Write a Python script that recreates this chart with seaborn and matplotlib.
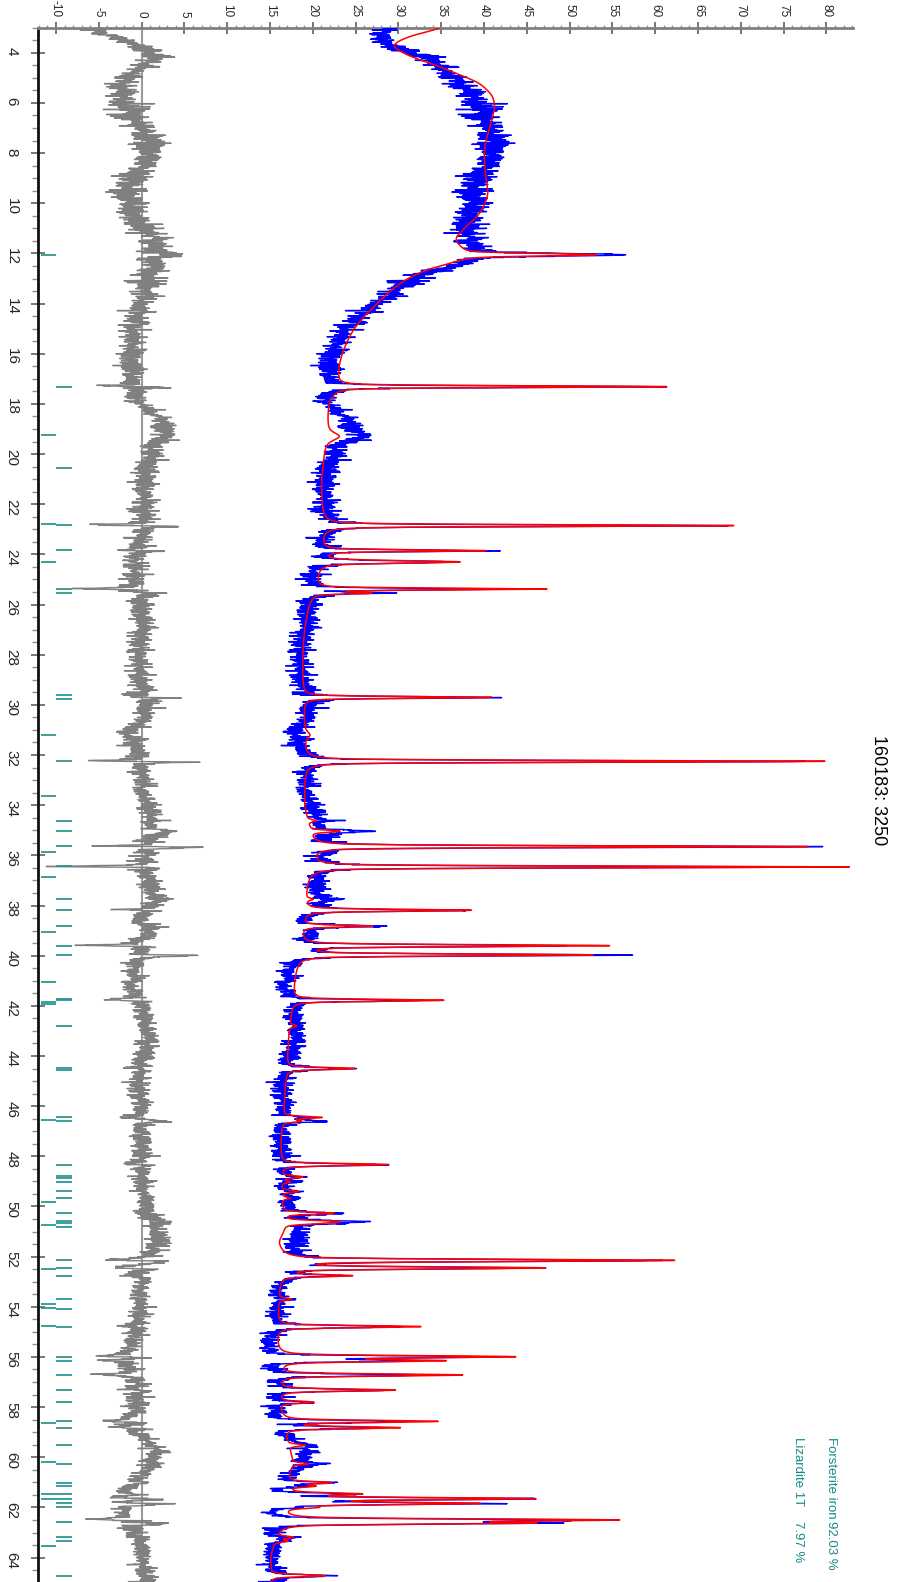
import numpy as np
import pandas as pd
import matplotlib
matplotlib.use("Agg")
import matplotlib.pyplot as plt
from matplotlib.ticker import MultipleLocator, FuncFormatter
import seaborn as sns

# ---------------------------------------------------------------- data
# scan grid (degrees 2-theta)
two_theta = np.round(np.arange(3.0, 65.0001, 0.01), 3)

# calculated background, knots (2-theta, intensity)
bg_tt = [3.0, 3.3, 3.7, 4.1, 4.55, 5.2, 5.7, 6.15, 6.8, 7.5, 8.1, 9.0, 9.6, 10.1,
         10.5, 10.95, 11.45, 11.75, 12.3, 12.6, 13.0, 13.5, 14.0, 14.5, 15.0, 15.5,
         16.0, 16.5, 17.0, 17.6, 18.0, 18.5, 19.0, 20.0, 21.0, 22.0, 22.5, 23.3,
         24.0, 24.7, 25.2, 26.0, 27.0, 28.0, 29.0, 30.0, 31.0, 32.0, 33.0, 34.0,
         35.0, 36.0, 37.0, 38.0, 39.0, 40.0, 41.0, 42.0, 43.0, 44.0, 45.0, 46.0,
         47.0, 48.0, 49.0, 50.0, 51.0, 51.4, 52.0, 53.0, 54.0, 55.0, 56.0, 57.0,
         58.0, 59.0, 60.0, 60.5, 61.0, 62.0, 63.0, 64.0, 65.0]
bg_calc = [35.5, 31.5, 29.0, 31.0, 34.8, 39.5, 41.0, 41.3, 40.8, 40.2, 40.0, 40.2, 40.5, 40.0,
           39.3, 37.8, 36.4, 37.2, 37.0, 33.5, 31.0, 29.0, 27.5, 26.0, 24.8, 24.0,
           23.4, 23.0, 22.8, 22.2, 21.8, 21.7, 21.7, 21.3, 21.0, 21.0, 21.2, 21.0,
           21.0, 20.5, 20.3, 19.5, 19.0, 18.8, 18.8, 18.9, 19.0, 19.0, 19.0, 19.0,
           19.5, 19.8, 19.3, 19.0, 18.6, 18.2, 17.8, 17.5, 17.2, 17.0, 16.8, 16.6,
           16.3, 16.2, 16.2, 16.3, 16.5, 15.8, 16.2, 16.0, 15.9, 15.7, 15.7, 15.8,
           16.0, 16.5, 17.5, 17.3, 16.8, 16.0, 15.5, 15.0, 15.0]

# slowly varying observed-minus-calculated offset, knots (2-theta, intensity)
dev_tt = [3.0, 3.3, 3.6, 4.0, 4.2, 4.6, 5.0, 5.5, 6.0, 6.5, 7.0, 7.5, 8.0, 8.5, 9.0,
          9.5, 10.0, 10.5, 11.0, 11.5, 11.9, 12.8, 14.1, 15.5, 16.8, 17.9, 18.65,
          19.45, 20.8, 22.1, 23.3, 24.6, 26.8, 28.1, 29.2, 30.4, 31.2, 31.8, 33.5,
          35.1, 36.0, 37.1, 37.8, 38.5, 39.2, 40.5, 41.3, 42.2, 43.4, 44.5, 45.1,
          46.0, 47.5, 49.0, 50.5, 51.2, 51.7, 52.8, 54.0, 55.0, 55.8, 56.3, 57.0,
          57.8, 58.5, 59.0, 59.8, 60.3, 60.8, 61.4, 62.3, 62.8, 63.3, 64.0, 65.0]
dev_val = [-6.5, -3.6, -1.2, 1.2, 1.7, 0.0, -1.8, -2.4, -2.2, -1.2, 0.0, 1.0, 1.0, 0.5, -1.2,
           -1.8, -1.5, -1.0, 0.5, 1.4, 1.5, 1.2, -0.2, -1.0, -1.0, -0.8, 2.8,
           1.5, 0.5, 0.2, 0.0, -1.0, 0.3, -0.5, 0.0, 0.3, -1.5, -0.5, 0.3,
           1.5, 0.5, 1.0, 1.5, 0.0, 0.5, -1.0, -1.0, 0.0, 1.2, -0.5, -0.5,
           0.0, 0.0, 0.0, 1.0, 2.2, 1.5, 0.0, -0.3, -0.5, -2.0, -1.5, -0.5,
           -0.5, -1.5, -0.5, 1.8, 1.0, 0.0, -2.5, -2.0, -1.2, -0.3, 0.2, 0.5]

# reflections: position, calculated height, observed height, FWHM
peak_pos = [12.05, 17.31, 19.30, 22.85, 23.85, 24.30, 25.38, 25.54, 29.70, 31.20,
            32.25, 34.62, 35.04, 35.65, 36.46, 37.75, 38.19, 38.82, 39.60, 39.97,
            41.78, 42.80, 44.50, 46.45, 46.60, 48.33, 48.82, 49.02, 49.40, 49.67,
            50.27, 50.60, 50.68, 52.15, 52.45, 52.76, 53.70, 54.79, 55.99, 56.15,
            56.72, 57.32, 57.81, 58.57, 58.82, 59.52, 60.26, 61.01, 61.15, 61.46,
            61.65, 61.84, 62.00, 62.50, 62.62, 63.19, 63.34, 64.72]
peak_calc = [16.0, 38.8, 1.5, 48.0, 19.0, 16.3, 27.0, 6.0, 22.0, 0.6,
             60.8, 1.0, 3.5, 58.0, 63.0, 0.8, 19.5, 8.2, 36.0, 34.2,
             17.7, 0.8, 8.0, 4.5, 2.0, 12.6, 2.5, 1.0, 2.0, 1.0,
             6.0, 6.0, 3.0, 45.6, 30.3, 8.0, 1.5, 16.8, 27.0, 18.4,
             21.5, 13.6, 4.0, 18.0, 13.4, 2.0, 2.0, 5.0, 3.0, 8.0,
             28.5, 22.0, 3.0, 37.5, 27.0, 2.0, 1.5, 6.4]
peak_obs = [18.0, 38.0, 2.5, 47.0, 19.5, 16.0, 22.0, 8.0, 22.6, 0.6,
            60.0, 1.5, 6.0, 58.0, 55.0, 2.5, 18.0, 9.8, 31.0, 39.5,
            16.0, 0.8, 8.0, 3.5, 4.0, 11.5, 2.5, 1.0, 2.0, 1.0,
            5.0, 7.5, 3.5, 42.7, 27.4, 7.0, 1.5, 15.4, 26.5, 16.0,
            18.0, 13.0, 4.0, 16.5, 12.0, 2.0, 2.0, 6.0, 3.0, 10.0,
            31.0, 25.0, 3.0, 36.0, 29.0, 2.0, 1.5, 6.5]
peak_fwhm = [0.12, 0.08, 0.35, 0.08, 0.08, 0.12, 0.08, 0.08, 0.08, 0.30,
             0.08, 0.10, 0.10, 0.08, 0.08, 0.10, 0.09, 0.09, 0.09, 0.09,
             0.09, 0.10, 0.10, 0.10, 0.10, 0.10, 0.10, 0.10, 0.10, 0.10,
             0.10, 0.10, 0.10, 0.10, 0.10, 0.10, 0.10, 0.10, 0.10, 0.10,
             0.10, 0.10, 0.10, 0.10, 0.10, 0.10, 0.10, 0.10, 0.10, 0.10,
             0.10, 0.10, 0.10, 0.10, 0.10, 0.10, 0.10, 0.10]

# Bragg positions of the two phases
lizardite_ticks = [12.07, 19.25, 22.79, 24.29, 31.20, 33.65, 35.87, 36.85, 39.07, 41.04,
                   41.86, 41.93, 46.54, 49.81, 50.75, 52.49, 53.90, 54.06, 54.75, 58.63,
                   60.19, 61.46, 61.65, 63.54]
forsterite_ticks = [17.31, 20.57, 22.83, 23.84, 25.38, 25.54, 29.62, 29.75, 32.25, 34.62,
                    35.04, 35.64, 36.44, 37.75, 38.19, 38.82, 39.60, 39.97, 41.73, 41.78,
                    42.80, 44.47, 44.55, 46.45, 46.60, 48.33, 48.80, 48.88, 49.02, 49.40,
                    49.67, 50.27, 50.59, 50.66, 50.83, 52.15, 52.45, 52.76, 53.70, 54.07,
                    54.79, 55.99, 56.15, 56.72, 57.32, 57.81, 58.57, 58.82, 59.52, 60.26,
                    61.01, 61.15, 61.46, 61.65, 61.84, 62.00, 62.60, 63.19, 63.34, 64.72]

phase_names = ["Forsterite iron", "Lizardite 1T"]
phase_fractions = ["92.03 %", "7.97 %"]
title_text = "160183: 3250"


# ---------------------------------------------------------------- profiles
def pseudo_voigt(x, x0, h, w, eta=0.55):
    u = (x - x0) / w
    return h * (eta / (1.0 + 4.0 * u ** 2) + (1.0 - eta) * np.exp(-4.0 * np.log(2) * u ** 2))


def smooth(y, sigma_pts):
    """Gaussian smoothing with edge padding, used to round off the knot curves."""
    half = int(4 * sigma_pts)
    k = np.exp(-0.5 * (np.arange(-half, half + 1) / sigma_pts) ** 2)
    k /= k.sum()
    padded = np.pad(y, half, mode="edge")
    return np.convolve(padded, k, mode="valid")


shift = 0.006  # small zero-shift between measured and refined peaks
calc = smooth(np.interp(two_theta, bg_tt, bg_calc), 12)
obs_clean = calc + smooth(np.interp(two_theta, dev_tt, dev_val), 8)
for p, hc, ho, w in zip(peak_pos, peak_calc, peak_obs, peak_fwhm):
    calc = calc + pseudo_voigt(two_theta, p, hc, w)
    obs_clean = obs_clean + pseudo_voigt(two_theta, p + shift, ho, w)

# counting statistics on the measured pattern
rng = np.random.default_rng(11)
obs = obs_clean + rng.normal(0.0, 1.0, two_theta.size) * 0.16 * np.sqrt(np.clip(obs_clean, 1, None))
diff = obs - calc

df = pd.DataFrame({"two_theta": two_theta, "obs": obs, "calc": calc, "diff": diff})

# ---------------------------------------------------------------- figure
sns.set_theme(style="white")
plt.rcParams["font.family"] = ["Liberation Sans Narrow", "Liberation Sans", "DejaVu Sans"]
plt.rcParams["axes.unicode_minus"] = False

W, H = 906, 1582
fig = plt.figure(figsize=(W / 100, H / 100), dpi=100)
ax = fig.add_axes([38 / W, 0.0, (853 - 38) / W, 1 - 27.7 / H])

ax.axvline(0, color="#9a9a9a", lw=1.5, zorder=1)
sns.lineplot(data=df, x="diff", y="two_theta", sort=False, estimator=None,
             color="#808080", lw=1.0, ax=ax, zorder=2)
sns.lineplot(data=df, x="obs", y="two_theta", sort=False, estimator=None,
             color="#0000ff", lw=1.0, ax=ax, zorder=3)
sns.lineplot(data=df, x="calc", y="two_theta", sort=False, estimator=None,
             color="#ff0000", lw=1.1, ax=ax, zorder=4)

# phase reflection markers
ax.hlines(lizardite_ticks, -11.75, -10.0, color="#2a9791", lw=1.3, zorder=5)
ax.hlines(forsterite_ticks, -10.0, -8.1, color="#2a9791", lw=1.3, zorder=5)

ax.set_xlim(-12.1, 83.1)
ax.set_ylim(3.0 + (H - 27.7) / 25.08, 3.0)
ax.set_xlabel("")
ax.set_ylabel("")

ax.xaxis.tick_top()
ax.xaxis.set_major_locator(MultipleLocator(5))
ax.xaxis.set_minor_locator(MultipleLocator(1))
ax.yaxis.set_major_locator(MultipleLocator(2))
ax.yaxis.set_minor_locator(MultipleLocator(0.5))
ax.xaxis.set_major_formatter(FuncFormatter(lambda v, _: f"{v:.0f}"))
ax.yaxis.set_major_formatter(FuncFormatter(lambda v, _: f"{v:.0f}"))

ax.tick_params(axis="x", which="major", direction="inout", length=9, width=1.2,
               color="#606060", labelsize=8.5, pad=3, labelrotation=-90,
               top=True, bottom=False, labeltop=True, labelbottom=False)
ax.tick_params(axis="x", which="minor", direction="out", length=2.5, width=1.0,
               color="#909090", top=True, bottom=False)
ax.tick_params(axis="y", which="major", direction="inout", length=10, width=1.2,
               color="#606060", labelsize=11, pad=9, labelrotation=-90, left=True)
ax.tick_params(axis="y", which="minor", direction="out", length=4, width=1.0,
               color="#909090", left=True)

for side in ("right", "bottom"):
    ax.spines[side].set_visible(False)
ax.spines["top"].set_color("#808080")
ax.spines["top"].set_linewidth(2.0)
ax.spines["left"].set_color("#111111")
ax.spines["left"].set_linewidth(2.0)

# title and phase list
fig.text(878 / W, 1 - 790 / H, title_text, rotation=-90, ha="center", va="center",
         fontsize=13, family=["Liberation Sans", "DejaVu Sans"], color="black")
for xpix, name, frac in zip([831, 798], phase_names, phase_fractions):
    fig.text(xpix / W, 1 - 1437 / H, name, rotation=-90, ha="center", va="top",
             fontsize=9.5, color="#148c86")
    fig.text(xpix / W, 1 - 1521 / H, frac, rotation=-90, ha="center", va="top",
             fontsize=9.5, color="#148c86")

fig.savefig("out.png", dpi=100)
